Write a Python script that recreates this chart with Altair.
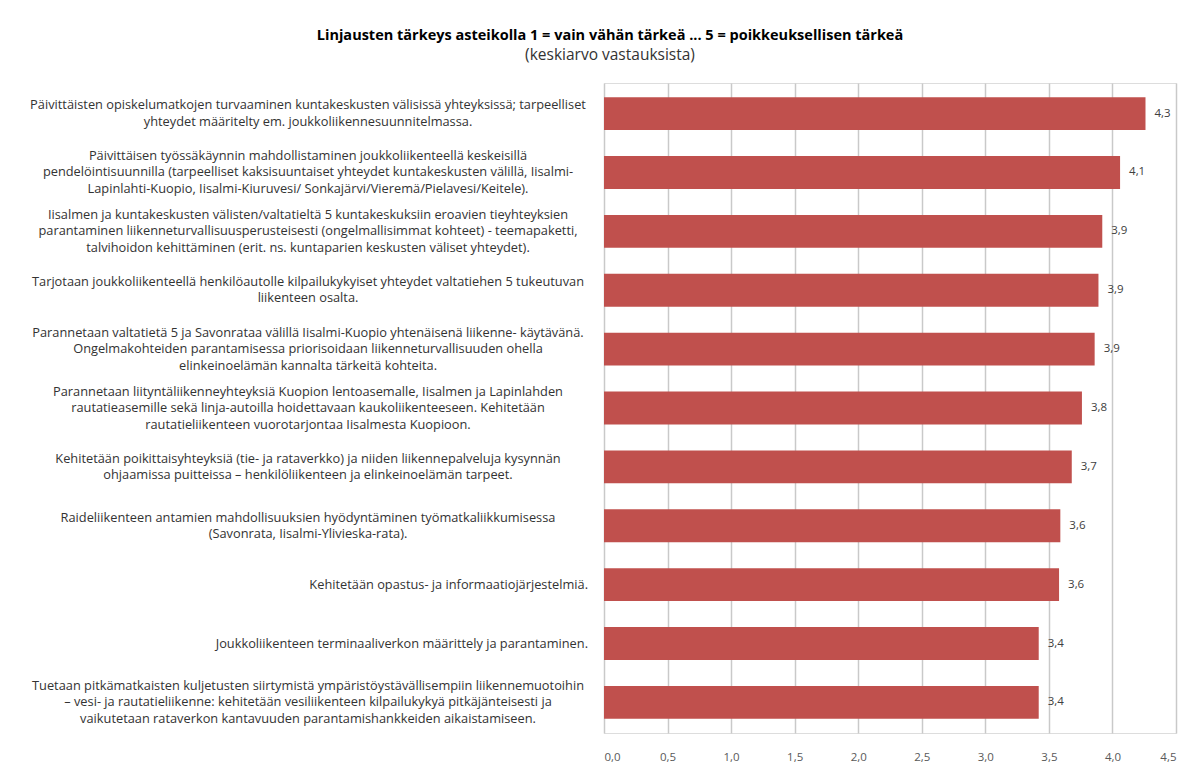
import altair as alt
import pandas as pd

labels = [
    "Päivittäisten opiskelumatkojen turvaaminen kuntakeskusten välisissä yhteyksissä; tarpeelliset\nyhteydet määritelty em. joukkoliikennesuunnitelmassa.",
    "Päivittäisen työssäkäynnin mahdollistaminen joukkoliikenteellä keskeisillä\npendelöintisuunnilla (tarpeelliset kaksisuuntaiset yhteydet kuntakeskusten välillä, Iisalmi-\nLapinlahti-Kuopio, Iisalmi-Kiuruvesi/ Sonkajärvi/Vieremä/Pielavesi/Keitele).",
    "Iisalmen ja kuntakeskusten välisten/valtatieltä 5 kuntakeskuksiin eroavien tieyhteyksien\nparantaminen liikenneturvallisuusperusteisesti (ongelmallisimmat kohteet) - teemapaketti,\ntalvihoidon kehittäminen (erit. ns. kuntaparien keskusten väliset yhteydet).",
    "Tarjotaan joukkoliikenteellä henkilöautolle kilpailukykyiset yhteydet valtatiehen 5 tukeutuvan\nliikenteen osalta.",
    "Parannetaan valtatietä 5 ja Savonrataa välillä Iisalmi-Kuopio yhtenäisenä liikenne- käytävänä.\nOngelmakohteiden parantamisessa priorisoidaan liikenneturvallisuuden ohella\nelinkeinoelämän kannalta tärkeitä kohteita.",
    "Parannetaan liityntäliikenneyhteyksiä Kuopion lentoasemalle, Iisalmen ja Lapinlahden\nrautatieasemille sekä linja-autoilla hoidettavaan kaukoliikenteeseen. Kehitetään\nrautatieliikenteen vuorotarjontaa Iisalmesta Kuopioon.",
    "Kehitetään poikittaisyhteyksiä (tie- ja rataverkko) ja niiden liikennepalveluja kysynnän\nohjaamissa puitteissa – henkilöliikenteen ja elinkeinoelämän tarpeet.",
    "Raideliikenteen antamien mahdollisuuksien hyödyntäminen työmatkaliikkumisessa\n(Savonrata, Iisalmi-Ylivieska-rata).",
    "Kehitetään opastus- ja informaatiojärjestelmiä.",
    "Joukkoliikenteen terminaaliverkon määrittely ja parantaminen.",
    "Tuetaan pitkämatkaisten kuljetusten siirtymistä ympäristöystävällisempiin liikennemuotoihin\n– vesi- ja rautatieliikenne: kehitetään vesiliikenteen kilpailukykyä pitkäjänteisesti ja\nvaikutetaan rataverkon kantavuuden parantamishankkeiden aikaistamiseen.",
]
values = [4.26, 4.06, 3.92, 3.89, 3.86, 3.76, 3.68, 3.59, 3.58, 3.42, 3.42]
x_ticks = [0, 0.5, 1.0, 1.5, 2.0, 2.5, 3.0, 3.5, 4.0, 4.5]

df = pd.DataFrame({
    "idx": list(range(len(labels))),
    "label": labels,
    "value": values,
    "nlines": [l.count("\n") + 1 for l in labels],
})

FONT = "Open Sans"
LABEL_SIZE = 12.8
LINE_H = 16.5

y_enc = alt.Y(
    "idx:O",
    scale=alt.Scale(paddingInner=0.44, paddingOuter=0.24),
    axis=alt.Axis(labels=False, ticks=False, domain=False, title=None, grid=False),
)

base = alt.Chart(df)

bars = base.mark_bar(color="#c0504d").encode(
    x=alt.X(
        "value:Q",
        scale=alt.Scale(domain=[0, 4.5], nice=False),
        axis=alt.Axis(
            values=x_ticks, format=".1f", title=None, domain=False, ticks=False,
            labelPadding=18, labelFontSize=11.5, labelColor="#595959", labelFont=FONT,
            grid=True, gridColor="#c9c9c9", gridWidth=1.5,
        ),
    ),
    y=y_enc,
)

value_text = base.mark_text(
    align="left", baseline="middle", dx=9, fontSize=11.5, color="#404040", font=FONT
).encode(
    x="value:Q",
    y=y_enc,
    text=alt.Text("value:Q", format=".1f"),
)

def label_layer(n):
    if n == 1:
        return base.transform_filter("datum.nlines == 1").mark_text(
            align="right", baseline="middle", fontSize=LABEL_SIZE,
            color="#333333", font=FONT,
        ).encode(x=alt.value(-16), y=y_enc, text="label:N")
    return base.transform_filter(f"datum.nlines == {n}").mark_text(
        align="center", baseline="middle", lineBreak="\n", lineHeight=LINE_H,
        fontSize=LABEL_SIZE, color="#333333", font=FONT,
        dy=-(n - 1) * LINE_H / 2,
    ).encode(x=alt.value(-296), y=y_enc, text="label:N")

chart = alt.layer(
    bars, value_text, label_layer(1), label_layer(2), label_layer(3)
).properties(
    width=572,
    height=650,
    autosize=alt.AutoSizeParams(type="none"),
    padding={"left": 596, "top": 75, "right": 18, "bottom": 37},
    title=alt.TitleParams(
        text="Linjausten tärkeys asteikolla 1 = vain vähän tärkeä ... 5 = poikkeuksellisen tärkeä",
        subtitle="(keskiarvo vastauksista)",
        anchor="middle",
        dx=-280,
        offset=19,
        font=FONT,
        fontSize=14.5,
        fontWeight="bold",
        color="#000000",
        subtitleFont=FONT,
        subtitleFontSize=15.5,
        subtitleColor="#333333",
        subtitlePadding=4,
    ),
).configure_view(stroke=None).configure(background="white")

chart.save(
    "out.html",
    embed_options={
        "renderer": "svg",
        "actions": False,
        "formatLocale": {
            "decimal": ",",
            "thousands": "\u00a0",
            "grouping": [3],
            "currency": ["", "\u00a0€"],
        },
    },
)
